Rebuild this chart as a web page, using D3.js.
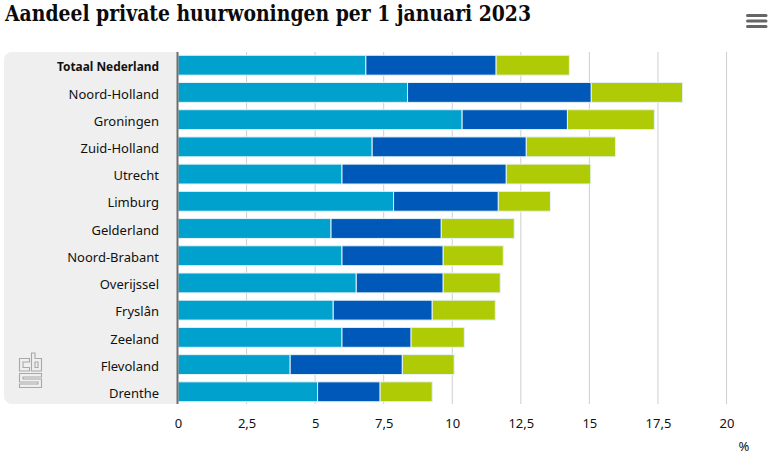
<!DOCTYPE html>
<html>
<head>
    <meta charset="utf-8">
    <title>Aandeel private huurwoningen</title>
    <script src="https://d3js.org/d3.v7.min.js"></script>
    <style>
        html, body { margin: 0; padding: 0; background: #fff; }
        svg { display: block; }
        .label { font-family: "Noto Sans", sans-serif; font-size: 13px; fill: #111; }
    </style>
</head>
<body>
    <div id="chart"></div>
    <script>
        const provinces = ["Totaal Nederland", "Noord-Holland", "Groningen", "Zuid-Holland", "Utrecht", "Limburg", "Gelderland", "Noord-Brabant", "Overijssel", "Fryslân", "Zeeland", "Flevoland", "Drenthe"];
        const seriesA = [6.85, 8.37, 10.36, 7.08, 5.98, 7.86, 5.58, 5.98, 6.5, 5.66, 5.98, 4.09, 5.09];
        const seriesB = [4.75, 6.7, 3.84, 5.62, 5.99, 3.82, 4.02, 3.69, 3.17, 3.61, 2.52, 4.09, 2.28];
        const seriesC = [2.67, 3.33, 3.17, 3.25, 3.08, 1.9, 2.66, 2.19, 2.08, 2.3, 1.94, 1.89, 1.9];
        const seriesKeys = ["a", "b", "c"];
        const seriesColors = ["#00a1cd", "#0058b8", "#afcb05"];
        const xTicks = [0, 2.5, 5, 7.5, 10, 12.5, 15, 17.5, 20];

        const width = 768, height = 455;
        const rows = provinces.map((p, i) => ({ province: p, a: seriesA[i], b: seriesB[i], c: seriesC[i] }));

        const xScale = d3.scaleLinear().domain([0, 20]).range([178, 726.5]);
        const yScale = d3.scaleBand().domain(provinces).range([51.6, 405.4]).paddingInner(0.27).paddingOuter(0.135);

        const svg = d3.select("#chart").append("svg")
            .attr("width", width)
            .attr("height", height);

        // title
        svg.append("text")
            .attr("x", 5)
            .attr("y", 21)
            .attr("textLength", 526)
            .attr("lengthAdjust", "spacingAndGlyphs")
            .style("font-family", "'DejaVu Serif', serif")
            .style("font-weight", "bold")
            .style("font-size", "23px")
            .style("fill", "#0b0b0b")
            .text("Aandeel private huurwoningen per 1 januari 2023");

        // grey panel behind the labels
        svg.append("path")
            .attr("d", "M178,52H12a8,8 0 0 0 -8,8V396a8,8 0 0 0 8,8H178Z")
            .attr("fill", "#efefef");

        // gridlines
        svg.selectAll(".grid")
            .data(xTicks.slice(1))
            .enter().append("line")
            .attr("class", "grid")
            .attr("x1", d => xScale(d))
            .attr("x2", d => xScale(d))
            .attr("y1", 52)
            .attr("y2", 404)
            .attr("stroke", "#cfcfcf")
            .attr("stroke-width", 1);

        // bars
        const stacked = d3.stack().keys(seriesKeys)(rows);
        svg.selectAll(".serie")
            .data(stacked)
            .enter().append("g")
            .attr("class", "serie")
            .attr("fill", (d, i) => seriesColors[i])
            .selectAll("rect")
            .data(d => d)
            .enter().append("rect")
            .attr("x", d => xScale(d[0]))
            .attr("y", d => yScale(d.data.province))
            .attr("width", d => xScale(d[1]) - xScale(d[0]))
            .attr("height", yScale.bandwidth())
            .attr("stroke", "#e4f2f6")
            .attr("stroke-width", 1);

        // y axis
        const yAxis = svg.append("g")
            .attr("transform", "translate(168,2)")
            .call(d3.axisLeft(yScale).tickSize(0).tickPadding(9));
        yAxis.select(".domain").remove();
        yAxis.selectAll("text")
            .attr("class", "label")
            .style("font-weight", d => d === "Totaal Nederland" ? "bold" : "normal");
        // the bold label runs narrower in the original
        yAxis.selectAll("text")
            .filter(d => d === "Totaal Nederland")
            .attr("textLength", 102)
            .attr("lengthAdjust", "spacingAndGlyphs");

        svg.append("line")
            .attr("x1", 177.5).attr("x2", 177.5)
            .attr("y1", 52).attr("y2", 404)
            .attr("stroke", "#6e6e6e")
            .attr("stroke-width", 2);

        // x axis
        const xAxis = svg.append("g")
            .attr("transform", "translate(0,419)")
            .call(d3.axisBottom(xScale).tickValues(xTicks).tickSize(0).tickPadding(0)
                .tickFormat(d => String(d).replace(".", ",")));
        xAxis.select(".domain").remove();
        xAxis.selectAll("text").attr("class", "label");

        svg.append("text")
            .attr("class", "label")
            .attr("x", 744)
            .attr("y", 451)
            .attr("text-anchor", "middle")
            .text("%");

        // menu icon
        svg.selectAll(".menu")
            .data([15.5, 21, 26.5])
            .enter().append("line")
            .attr("class", "menu")
            .attr("x1", 747.5).attr("x2", 766)
            .attr("y1", d => d).attr("y2", d => d)
            .attr("stroke", "#666")
            .attr("stroke-width", 3)
            .attr("stroke-linecap", "round");

        // cbs logo
        const logo = svg.append("g")
            .attr("fill", "none")
            .attr("stroke", "#a8a8a8")
            .attr("stroke-width", 1.1);
        logo.append("path").attr("d", "M19.5,358.5H29.5V362H23V367.5H29.5V371H19.5Z");
        logo.append("path").attr("d", "M31.5,353H35V358.5H41.5V371H31.5Z M35,362V367.5H38V362Z");
        logo.append("path").attr("d", "M19.5,373.5H41.5V377H23V379H41.5V387.5H19.5V384H38V382H19.5Z");
    </script>
</body>
</html>
